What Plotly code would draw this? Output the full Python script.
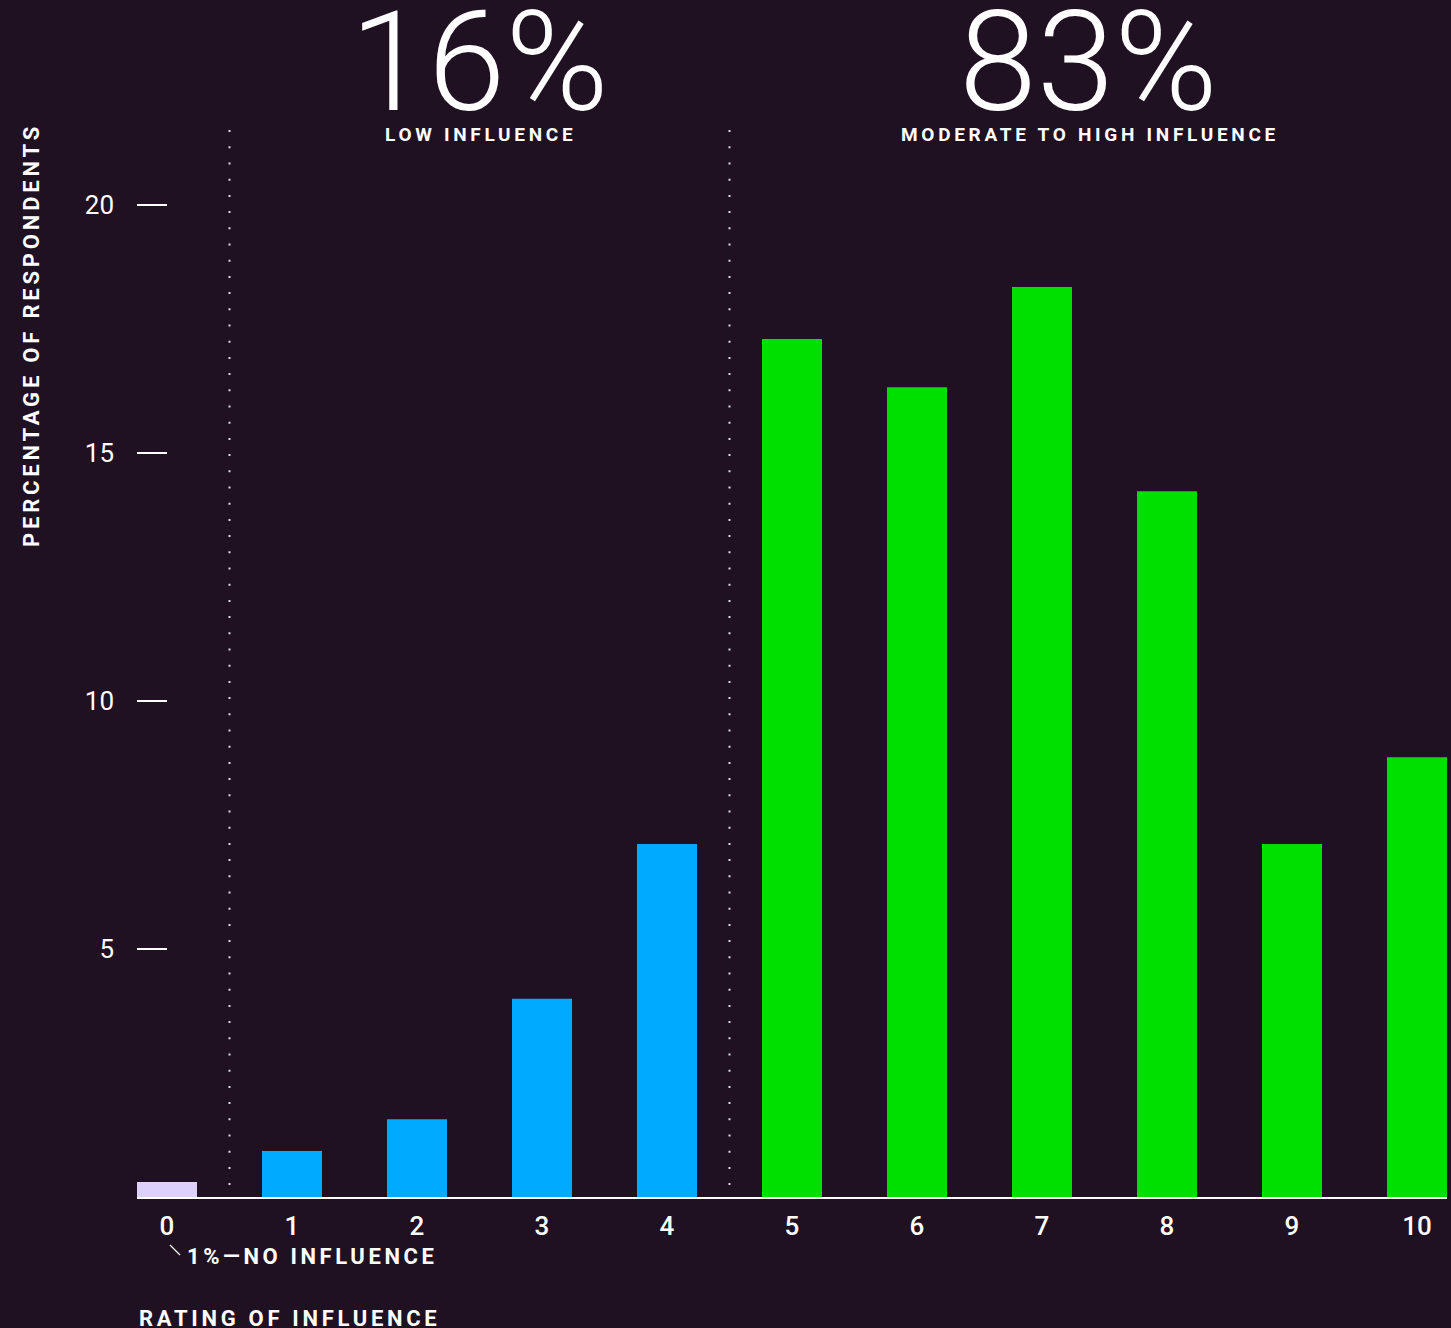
import plotly.graph_objects as go

# ---- data ----
categories = [0, 1, 2, 3, 4, 5, 6, 7, 8, 9, 10]
tick_labels = ["0", "1", "2", "3", "4", "5", "6", "7", "8", "9", "10"]
values = [0.3, 0.93, 1.57, 4.0, 7.12, 17.3, 16.33, 18.35, 14.23, 7.12, 8.87]
groups = ["none", "low", "low", "low", "low", "high", "high", "high", "high", "high", "high"]
y_ticks = [5, 10, 15, 20]
y_tick_labels = ["5", "10", "15", "20"]
low_share = "16%"
high_share = "83%"
low_label = "LOW INFLUENCE"
high_label = "MODERATE TO HIGH INFLUENCE"
none_label = "1%—NO INFLUENCE"
x_title = "RATING OF INFLUENCE"
y_title = "PERCENTAGE OF RESPONDENTS"

# ---- styling ----
BG = "#1f1022"
COLORS = {"none": "#ddd1fb", "low": "#00aaff", "high": "#00e000"}
FONT = "Roboto"
W, H = 1451, 1328
ML, MR, MT, MB = 137, 4, 106, 131
PLOT_H = H - MT - MB


def py(pix):
    """pixel row -> paper y"""
    return (H - MB - pix) / PLOT_H


def px(pix):
    """pixel col -> paper x"""
    return (pix - ML) / (W - ML - MR)


def spaced(t, ls):
    return f'<span style="letter-spacing:{ls}px">{t}</span>'


fig = go.Figure()
fig.add_trace(go.Bar(
    x=categories,
    y=values,
    marker=dict(color=[COLORS[g] for g in groups], line=dict(width=0)),
    width=0.48,
    hoverinfo="x+y",
))

shapes = []
for xb in [0.5, 4.5]:
    shapes.append(dict(type="line", xref="x", yref="y", x0=xb, x1=xb, y0=0.24, y1=21.75,
                       line=dict(color="rgba(255,255,255,0.85)", width=2, dash="2px,14.2px")))
# leader line for the "no influence" note
shapes.append(dict(type="line", xref="paper", yref="paper",
                   x0=px(170), x1=px(180), y0=py(1245), y1=py(1255),
                   line=dict(color="white", width=1.2)))

annotations = [
    dict(text=low_share, x=2.5, xref="x", y=py(62), yref="paper", showarrow=False,
         xanchor="center", yanchor="middle",
         font=dict(family=FONT, size=140, color="white", weight=300)),
    dict(text=high_share, x=7.37, xref="x", y=py(62), yref="paper", showarrow=False,
         xanchor="center", yanchor="middle",
         font=dict(family=FONT, size=140, color="white", weight=300)),
    dict(text=spaced(low_label, 3.7), x=2.505, xref="x", y=py(134), yref="paper", showarrow=False,
         xanchor="center", yanchor="middle",
         font=dict(family=FONT, size=19, color="white", weight=700)),
    dict(text=spaced(high_label, 3.7), x=7.385, xref="x", y=py(134), yref="paper", showarrow=False,
         xanchor="center", yanchor="middle",
         font=dict(family=FONT, size=19, color="white", weight=700)),
    dict(text=spaced(none_label, 3.6), x=px(185), xref="paper", y=py(1256), yref="paper",
         showarrow=False, xanchor="left", yanchor="middle",
         font=dict(family=FONT, size=22, color="white", weight=700)),
    dict(text=spaced(x_title, 3.7), x=0, xref="paper", y=py(1318), yref="paper",
         showarrow=False, xanchor="left", yanchor="middle",
         font=dict(family=FONT, size=22, color="white", weight=700)),
    dict(text=spaced(y_title, 3.8), x=px(32), xref="paper", y=py(335), yref="paper",
         showarrow=False, xanchor="center", yanchor="middle", textangle=-90,
         font=dict(family=FONT, size=22, color="white", weight=700)),
]

fig.update_layout(
    width=W, height=H,
    margin=dict(l=ML, r=MR, t=MT, b=MB, pad=0),
    paper_bgcolor=BG, plot_bgcolor=BG,
    showlegend=False,
    bargap=0.52,
    shapes=shapes,
    annotations=annotations,
    font=dict(family=FONT, color="white"),
)
fig.update_xaxes(
    range=[-0.24, 10.24], tickvals=categories, ticktext=tick_labels,
    showgrid=False, zeroline=False, showline=True, linecolor="white", linewidth=2,
    ticks="", ticklabelstandoff=5,
    tickfont=dict(family=FONT, size=26, color="white", weight=500),
    fixedrange=True,
)
fig.update_yaxes(
    range=[0, 22], tickvals=y_ticks, ticktext=y_tick_labels,
    showgrid=False, zeroline=False, showline=False,
    ticks="inside", ticklen=30, tickwidth=2, tickcolor="white",
    ticklabelstandoff=22,
    tickfont=dict(family=FONT, size=26, color="white", weight=400),
    fixedrange=True,
)

fig.write_html("out.html")
